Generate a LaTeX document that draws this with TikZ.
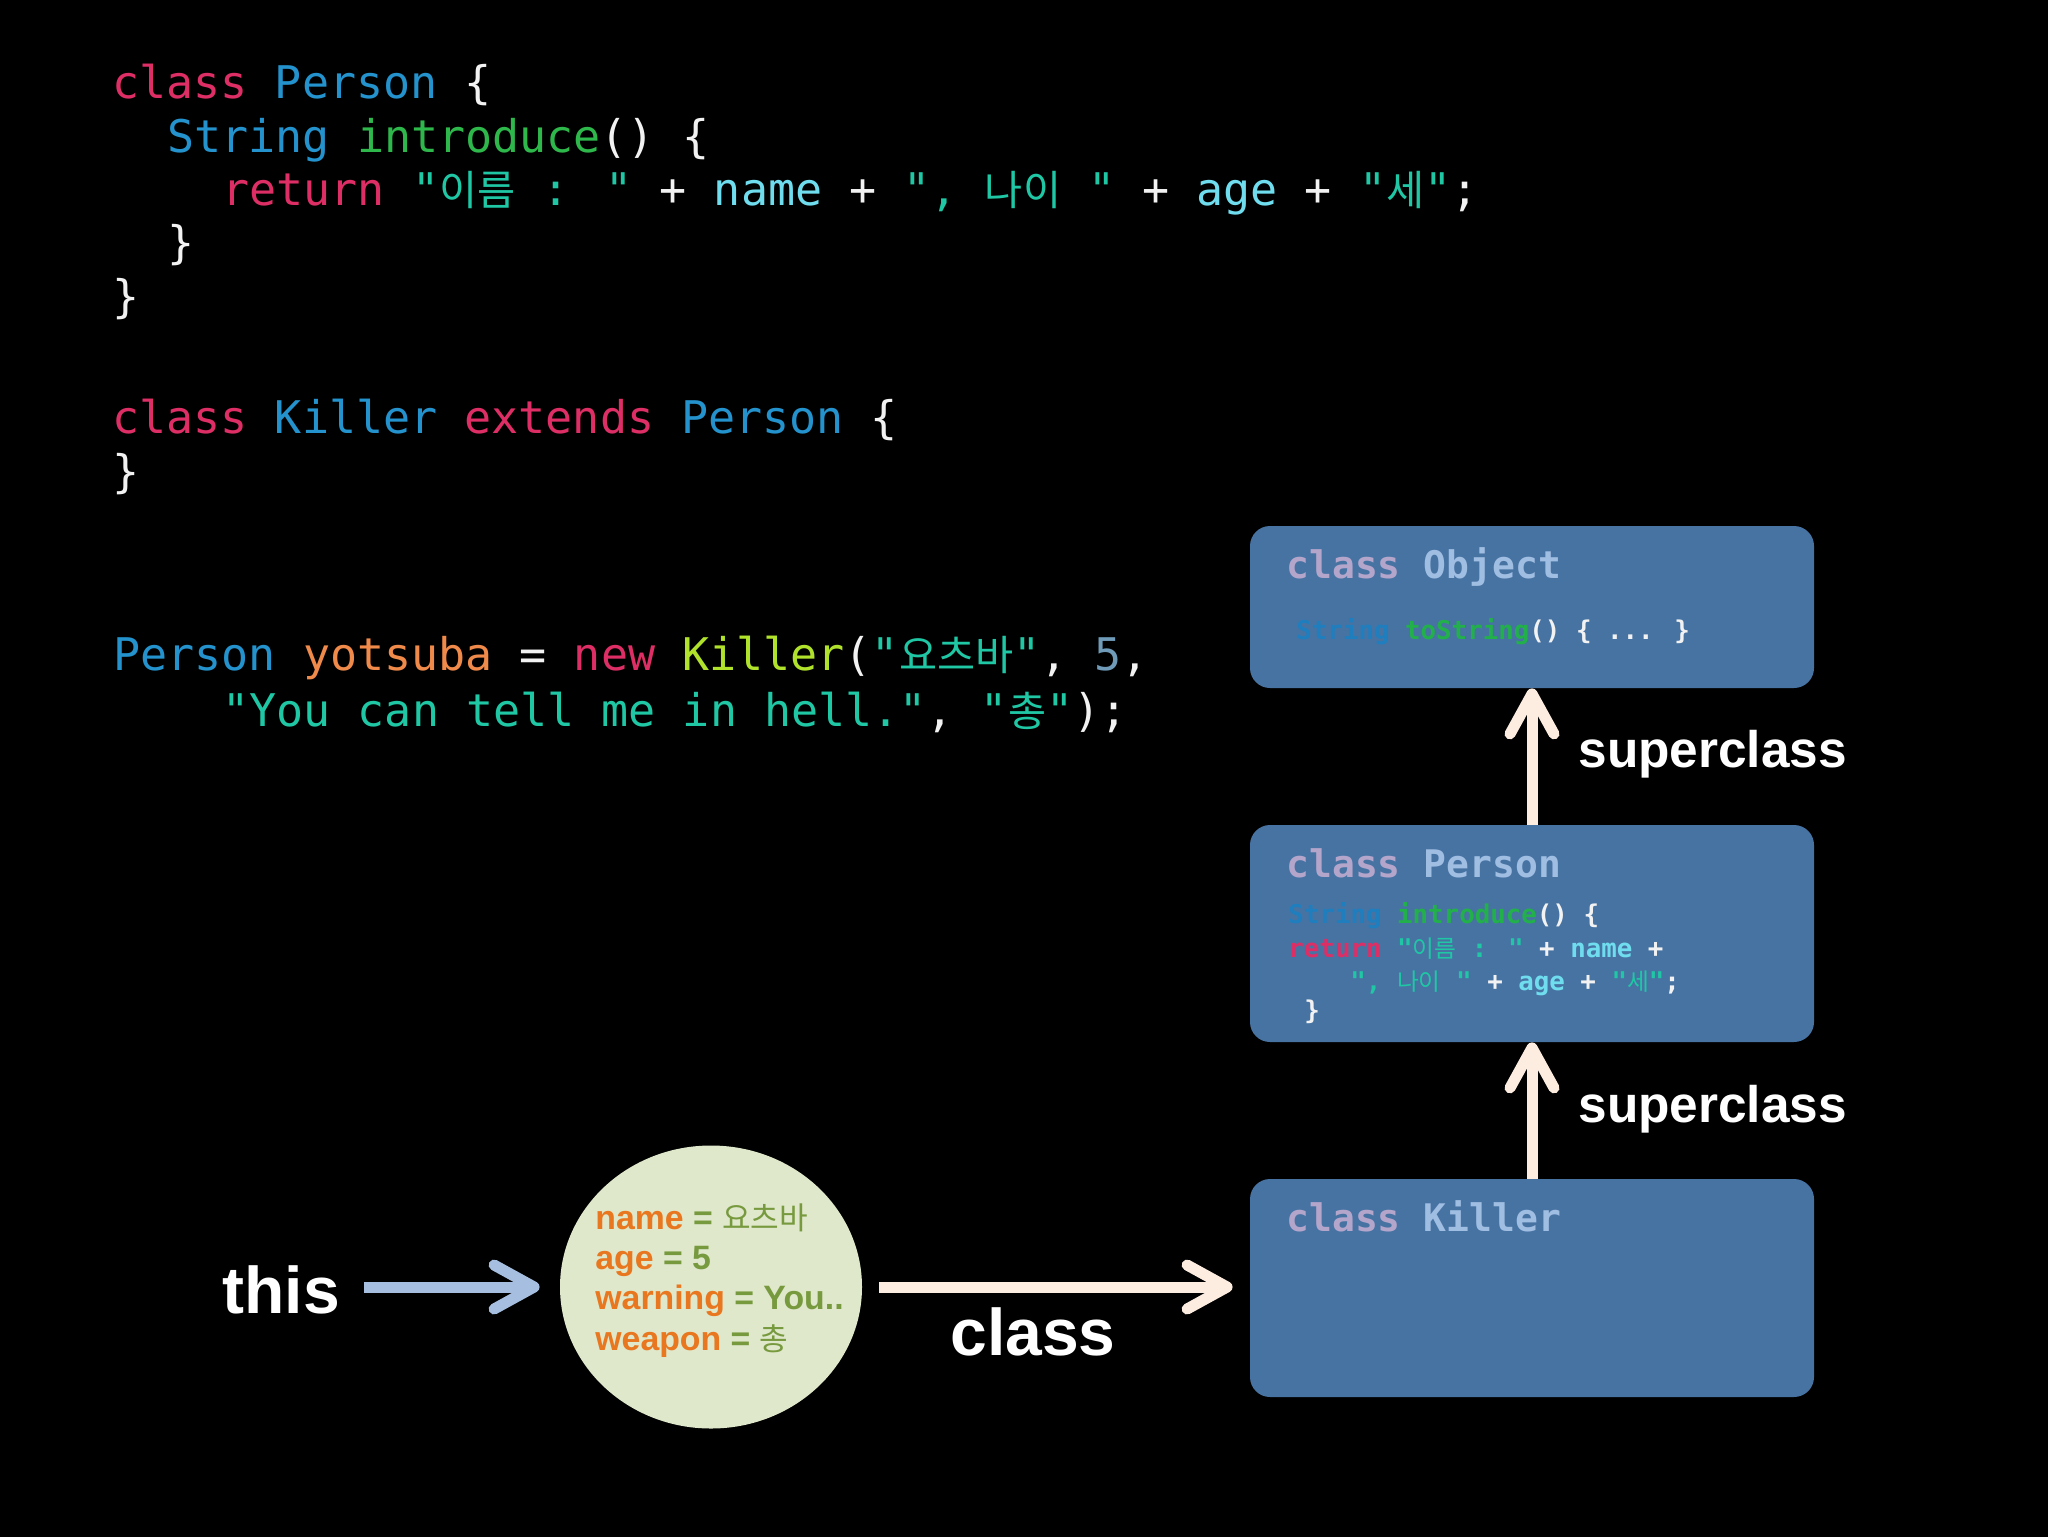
\documentclass[tikz,border=0pt]{standalone}
\usepackage{fontspec}
\usetikzlibrary{arrows.meta,shapes.geometric}
\newfontfamily\mono{DejaVu Sans Mono}
\newfontfamily\kr{Noto Sans CJK KR}[Scale=0.92]
\newfontfamily\lab{Liberation Sans}
\definecolor{kw}{HTML}{DD2E66}
\definecolor{ty}{HTML}{2492CC}
\definecolor{fn}{HTML}{2EB84C}
\definecolor{st}{HTML}{1FC7A5}
\definecolor{vr}{HTML}{6FDDEE}
\definecolor{ov}{HTML}{EF8A4A}
\definecolor{lm}{HTML}{B0E22C}
\definecolor{nm}{HTML}{6F9AB8}
\definecolor{wh}{HTML}{F2F2F2}
\definecolor{boxc}{HTML}{4773A3}
\definecolor{bcl}{HTML}{B4A5CB}
\definecolor{bnm}{HTML}{A0BDE2}
\definecolor{bty}{HTML}{1E7EBE}
\definecolor{bfn}{HTML}{22B04B}
\definecolor{ell}{HTML}{DFE8CB}
\definecolor{eor}{HTML}{E8771F}
\definecolor{egr}{HTML}{789A3F}
\definecolor{lblue}{HTML}{A6BFE0}
\definecolor{cream}{HTML}{FDECE0}
\newcommand{\Kw}[1]{\textcolor{kw}{#1}}
\newcommand{\Ty}[1]{\textcolor{ty}{#1}}
\newcommand{\Fn}[1]{\textcolor{fn}{#1}}
\newcommand{\St}[1]{\textcolor{st}{#1}}
\newcommand{\Vr}[1]{\textcolor{vr}{#1}}
\newcommand{\Hg}[1]{{\kr\mdseries #1}}
\begin{document}
\begin{tikzpicture}[x=0.5pt,y=-0.5pt,
  code/.style={anchor=base west, inner sep=0pt, text=wh, font=\mono\fontsize{22.5}{27}\selectfont},
  btitle/.style={anchor=base west, inner sep=0pt, font=\mono\bfseries\fontsize{19}{23}\selectfont},
  bcode/.style={anchor=base west, inner sep=0pt, text=wh, font=\mono\bfseries\fontsize{12.9}{15}\selectfont},
  biglbl/.style={anchor=base west, inner sep=0pt, text=white, font=\lab\bfseries\fontsize{33}{40}\selectfont},
  suplbl/.style={anchor=base west, inner sep=0pt, text=white, font=\lab\bfseries\fontsize{25.7}{30}\selectfont},
  etext/.style={anchor=base west, inner sep=0pt, text=eor, font=\lab\bfseries\fontsize{16.9}{20}\selectfont},
  cbox/.style={fill=boxc, rounded corners=10pt, minimum width=282pt, inner sep=0pt},
  arr/.style={line width=5.5pt, -{Straight Barb[length=20pt,width=22pt,round]}}
]
\useasboundingbox (0,0) rectangle (2048,1536);
\fill[black] (-20,-20) rectangle (2068,1556);

% source code
\node[code] (l1) at (112,98) {\Kw{class} \Ty{Person} \{};
\node[code] (l2) at (167,152) {\Ty{String} \Fn{introduce}() \{};
\node[code] (l3) at (222,205) {\Kw{return} \St{"\Hg{이름} : "} + \Vr{name} + \St{", \Hg{나이} "} + \Vr{age} + \St{"\Hg{세}"};};
\node[code] (l4) at (167,258) {\}};
\node[code] (l5) at (112,312) {\}};
\node[code] (l6) at (112,433) {\Kw{class} \Ty{Killer} \Kw{extends} \Ty{Person} \{};
\node[code] (l7) at (112,487) {\}};
\node[code] (l8) at (113,670) {\Ty{Person} \textcolor{ov}{yotsuba} = \Kw{new} \textcolor{lm}{Killer}(\St{"\Hg{요츠바}"}, \textcolor{nm}{5},};
\node[code] (l9) at (222,726) {\St{"You can tell me in hell."}, \St{"\Hg{총}"});};

% class boxes
\node[cbox, minimum height=81pt] (obj) at (1532,607) {};
\node[cbox, minimum height=108.5pt] (per) at (1532,933.5) {};
\node[cbox, minimum height=109pt] (kil) at (1532,1288) {};

\node[btitle] (ot) at (1286,578) {\textcolor{bcl}{class} \textcolor{bnm}{Object}};
\node[bcode] (oc) at (1296,639) {\textcolor{bty}{String} \textcolor{bfn}{toString}() \{ ... \}};

\node[btitle] (pt) at (1286,877) {\textcolor{bcl}{class} \textcolor{bnm}{Person}};
\node[bcode] (pc1) at (1288,923) {\textcolor{bty}{String} \textcolor{bfn}{introduce}() \{};
\node[bcode] (pc2) at (1288,957) {\Kw{return} \St{"\Hg{이름} : "} + \Vr{name} +};
\node[bcode] (pc3) at (1350,990) {\St{", \Hg{나이} "} + \Vr{age} + \St{"\Hg{세}"};};
\node[bcode] (pc4) at (1304,1019) {\}};

\node[btitle] (kt) at (1286,1231) {\textcolor{bcl}{class} \textcolor{bnm}{Killer}};

% superclass arrows
\draw[arr, cream] (per.north) -- (obj.south);
\draw[arr, cream] (kil.north) -- (per.south);
\node[suplbl] (s1) at (1578,767) {superclass};
\node[suplbl] (s2) at (1578,1122) {superclass};

% instance
\node[ellipse, fill=ell, minimum width=151pt, minimum height=141.5pt, inner sep=0pt] (inst) at (711,1287) {};
\node[etext] (e1) at (595,1229) {name \textcolor{egr}{= \Hg{요츠바}}};
\node[etext] (e2) at (595,1269) {age \textcolor{egr}{= 5}};
\node[etext] (e3) at (595,1309) {warning \textcolor{egr}{= You..}};
\node[etext] (e4) at (595,1350) {weapon \textcolor{egr}{= \Hg{총}}};

\node[biglbl] (this) at (222,1313) {this};
\draw[arr, lblue, shorten <=12pt, shorten >=10pt] (this.east |- inst.west) -- (inst.west);

\draw[arr, cream, shorten <=8.5pt, shorten >=8.5pt] (inst.east) -- (inst.east -| kil.west);
\node[biglbl] (cl) at (950,1355) {class};
\end{tikzpicture}
\end{document}
